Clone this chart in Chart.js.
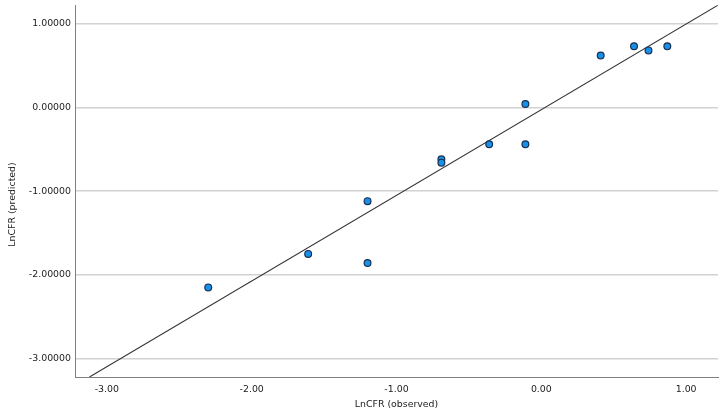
<!DOCTYPE html>
<html>
<head>
<meta charset="utf-8">
<script src="https://cdn.jsdelivr.net/npm/chart.js@4"></script>
<style>
  html, body { margin: 0; padding: 0; background: #fff; }
  #wrap { width: 727px; height: 418px; }
</style>
</head>
<body>
<div id="wrap"><canvas id="MyChart" width="727" height="418"></canvas></div>
<script>
// observed vs predicted LnCFR
let observed  = [-2.30, -1.61, -1.20, -1.20, -0.69, -0.69, -0.36, -0.11, -0.11, 0.41, 0.64, 0.74, 0.87];
let predicted = [-2.15, -1.75, -1.12, -1.86, -0.62, -0.66, -0.44, 0.04, -0.44, 0.62, 0.73, 0.68, 0.73];

// reference line end points
let lineX = [-3.12, 1.22];
let lineY = [-3.22, 1.22];

let xTicks = [-3, -2, -1, 0, 1];
let yTicks = [-3, -2, -1, 0, 1];

Chart.defaults.font.family = 'DejaVu Sans';
Chart.defaults.font.size = 9.4;
Chart.defaults.color = '#1a1a1a';

let points = [];
for (let i = 0; i < observed.length; i++) {
  points.push({x: observed[i], y: predicted[i]});
}
let linePts = [];
for (let i = 0; i < lineX.length; i++) {
  linePts.push({x: lineX[i], y: lineY[i]});
}

let data = {
  datasets: [{
    label: 'cases',
    data: points,
    backgroundColor: '#1790ea',
    borderColor: '#1a2f4f',
    borderWidth: 1.2,
    pointRadius: 3.4,
    order: 1
  },
  {
    label: 'fit',
    data: linePts,
    showLine: true,
    borderColor: '#333',
    borderWidth: 1.1,
    pointRadius: 0,
    order: 2
  }]
};

let options = {
  responsive: false,
  animation: false,
  layout: { padding: { top: 5, right: 9, left: 0, bottom: 0 } },
  plugins: {
    legend: { display: false },
    tooltip: { enabled: false }
  },
  scales: {
    x: {
      type: 'linear',
      min: -3.22,
      max: 1.22,
      afterBuildTicks: function (scale) {
        scale.ticks = xTicks.map(v => ({value: v}));
      },
      afterFit: function (scale) {
        scale.height = 41;
        scale.paddingLeft = 0;
        scale.paddingRight = 0;
      },
      ticks: {
        padding: 7,
        maxRotation: 0,
        callback: v => v.toFixed(2)
      },
      grid: { display: false, drawTicks: false },
      border: { display: true, color: '#808080', width: 1 },
      title: {
        display: true,
        text: 'LnCFR (observed)',
        padding: { top: 0, bottom: 7.4 }
      }
    },
    y: {
      type: 'linear',
      min: -3.22,
      max: 1.22,
      afterBuildTicks: function (scale) {
        scale.ticks = yTicks.map(v => ({value: v}));
      },
      afterFit: function (scale) {
        scale.width = 75;
        scale.paddingTop = 0;
        scale.paddingBottom = 0;
      },
      ticks: {
        padding: 4,
        callback: v => v.toFixed(5)
      },
      grid: { color: '#d2d2d2', lineWidth: 1.6, drawTicks: false },
      border: { display: true, color: '#808080', width: 1 },
      title: {
        display: true,
        text: 'LnCFR (predicted)         ',
        padding: { top: 7.4, bottom: 0 }
      }
    }
  }
};

let myChart = new Chart(document.getElementById('MyChart'), {
  type: 'scatter',
  data: data,
  options: options
});
</script>
</body>
</html>
